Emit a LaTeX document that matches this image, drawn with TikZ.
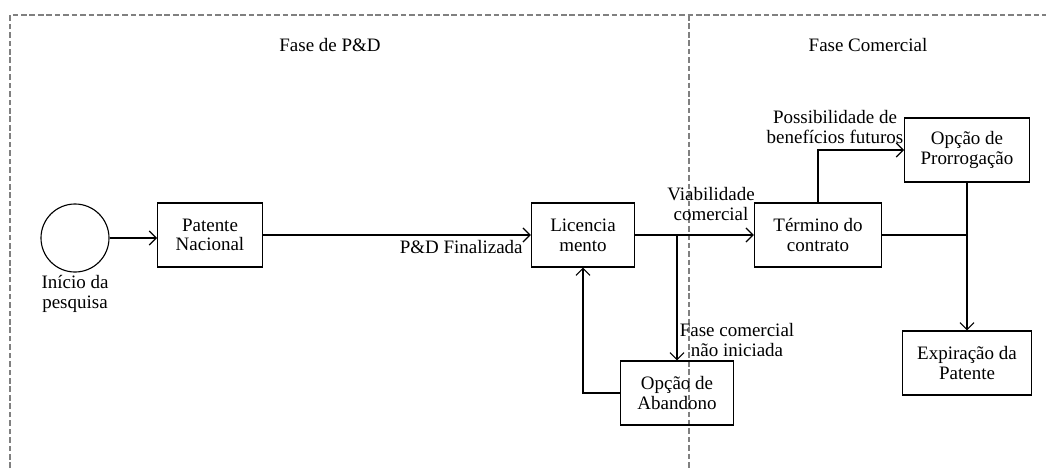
\documentclass[tikz,border=0pt]{standalone}
\usepackage{fontspec}
\setmainfont{Liberation Serif}
\usetikzlibrary{arrows.meta}
\begin{document}
\begin{tikzpicture}[x=0.025cm,y=-0.025cm,font=\fontsize{13.5}{14}\selectfont,
	caixa/.style={draw,align=center,minimum height=1.6cm,line width=0.8pt},
	seta/.style={-{Straight Barb[length=5pt,width=10pt]},line width=0.8pt},
	fase/.style={draw=gray,dashed,line width=0.9pt,dash pattern=on 4pt off 2pt}]
				\useasboundingbox (0,0) rectangle (1046,468);
				% molduras das fases
				\draw[fase] (10,468) -- (10,15) -- (1046,15);
				\draw[fase] (689,15) -- (689,468);
				\node (fasePD) at (330,45) {Fase de P\&D};
				\node (faseCom) at (868,45) {Fase Comercial};
				% etapas
				\node[draw,circle,minimum size=1.7cm,line width=0.8pt] (inicio) at (75,238) {};
				\node[align=center] (inicioTxt) at (75,294) {Início da\\pesquisa};
				\node[caixa,minimum width=2.62cm] (patente) at (210,235) {Patente\\Nacional};
				\node[caixa,minimum width=2.58cm] (licenc) at (583,235) {Licencia\\mento};
				\node[caixa,minimum width=2.83cm] (abandono) at (677,393) {Opção de\\Abandono};
				\node[caixa,minimum width=3.18cm] (termino) at (818,235) {Término do\\contrato};
				\node[caixa,minimum width=3.12cm] (prorrog) at (967,150) {Opção de\\Prorrogação};
				\node[caixa,minimum width=3.22cm] (expira) at (967,363) {Expiração da\\Patente};
				\coordinate (ramo) at (677,235);
				\coordinate (junta) at (967,235);
				% ligacoes
				\draw[seta] (inicio.east) -- (patente.west |- inicio.east);
				\draw[seta] (patente) to node[pos=0.74,below]{P\&D Finalizada}(licenc);
				\draw[seta] (licenc) -- (termino);
				\node[align=center] (viab) at (711,204) {Viabilidade\\comercial};
				\draw[seta] (ramo) -- (abandono);
				\node[align=center] (naoinic) at (737,340) {Fase comercial\\não iniciada};
				\draw[seta] (abandono.west) -| (licenc.south);
				\draw[seta] (termino.north) |- (prorrog.west);
				\node[align=center] (benef) at (835,127) {Possibilidade de\\benefícios futuros};
				\draw[line width=0.8pt] (termino) -- (junta);
				\draw[seta] (prorrog) -- (expira);
			\end{tikzpicture}
\end{document}
